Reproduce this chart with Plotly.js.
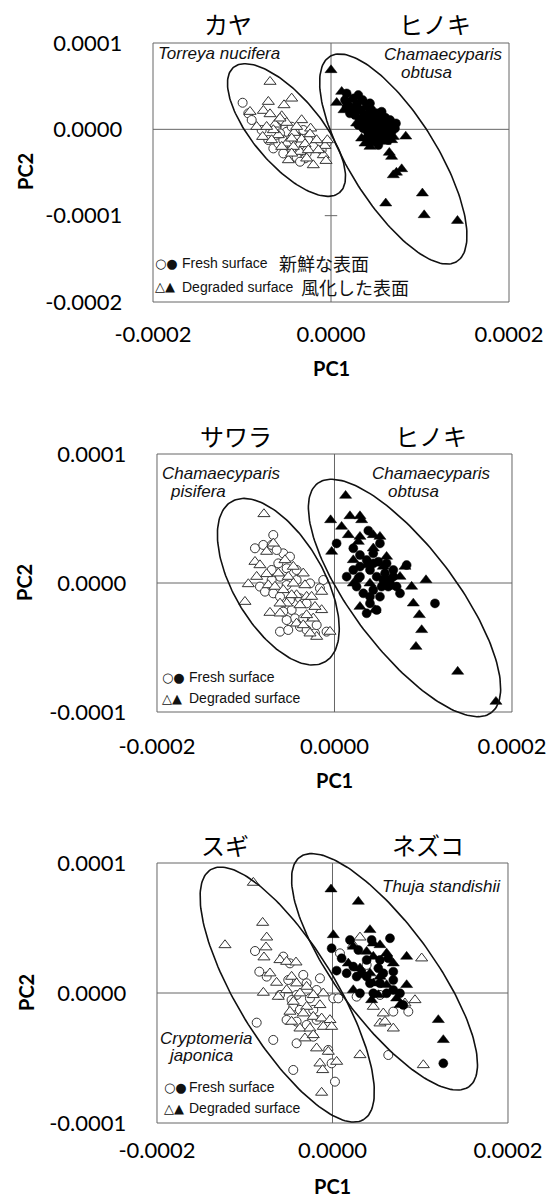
<!DOCTYPE html>
<html><head><meta charset="utf-8">
<script src="https://cdn.plot.ly/plotly-3.0.1.min.js"></script>
<style>html,body{margin:0;padding:0;background:#fff}</style>
</head><body><div id="chart" style="width:550px;height:1198px"></div>
<script>
// ---------------- DATA (PC1, PC2 scores) ----------------
// Panel 1: Torreya nucifera (open) vs Chamaecyparis obtusa (filled)
const p1_torreya_tri_x = [-6.85e-5,-7.04e-5,-4.42e-5,-5.28e-5,-7.60e-5,-9.10e-5,-6.85e-5,-5.54e-5,-3.30e-5,-8.35e-5,-6.29e-5,-4.98e-5,-2.29e-5,-7.68e-5,-5.92e-5,-4.16e-5,-2.36e-5,-3.30e-5,-4.98e-5,-2.92e-5,-0.68e-5,-0.41e-5,-4.79e-5,-1.99e-5,-0.86e-5,-0.56e-5,-3.48e-5,-6.48e-5,-4.23e-5,-2.55e-5,-5.73e-5,-7.23e-5,-4.42e-5,-3.86e-5,-5.54e-5,-1.61e-5,-6.67e-5,-2.73e-5,-4.42e-5,-1.42e-5];
const p1_torreya_tri_y = [5.52e-5,3.20e-5,3.58e-5,2.81e-5,2.16e-5,2.04e-5,1.77e-5,1.54e-5,1.08e-5,0.30e-5,0.57e-5,0.77e-5,0.11e-5,-0.86e-5,-0.66e-5,-0.39e-5,-0.55e-5,-1.16e-5,-1.63e-5,-1.70e-5,-1.90e-5,-1.24e-5,-3.56e-5,-4.14e-5,-2.98e-5,-3.64e-5,-2.59e-5,-0.08e-5,-2.01e-5,-2.40e-5,1.27e-5,0.30e-5,-1.05e-5,0.30e-5,-2.01e-5,-1.24e-5,-1.24e-5,-3.36e-5,-2.79e-5,-2.40e-5];
const p1_torreya_circ_x = [-9.93e-5,-9.29e-5,-8.91e-5,-6.48e-5,-5.92e-5,-3.48e-5,-2.92e-5,-3.86e-5,-0.49e-5,-5.36e-5,-4.42e-5,-7.04e-5,-2.55e-5,-4.98e-5,-3.86e-5,-6.11e-5,-1.99e-5,-3.11e-5,-4.42e-5,-5.36e-5,-1.05e-5,-7.79e-5,-2.73e-5,-5.73e-5,-3.48e-5];
const p1_torreya_circ_y = [3.08e-5,1.85e-5,1.08e-5,-2.21e-5,-1.63e-5,-1.82e-5,-3.36e-5,-3.25e-5,-1.55e-5,-1.24e-5,-2.21e-5,-1.24e-5,-1.24e-5,-0.28e-5,-0.86e-5,0.30e-5,-2.01e-5,-0.08e-5,0.30e-5,-2.79e-5,-2.40e-5,-0.08e-5,-2.79e-5,-0.47e-5,-3.75e-5];
const p1_hinoki_circ_x = [2.51e-5,3.07e-5,3.56e-5,2.88e-5,2.32e-5,3.33e-5,4.01e-5,4.57e-5,5.13e-5,3.71e-5,4.31e-5,4.76e-5,5.50e-5,6.07e-5,6.63e-5,3.26e-5,2.70e-5,3.93e-5,4.57e-5,5.13e-5,5.80e-5,6.33e-5,6.93e-5,4.76e-5,5.32e-5,4.19e-5,3.63e-5,5.69e-5,4.94e-5,4.38e-5,6.25e-5,6.81e-5,1.76e-5,2.13e-5,3.07e-5,7.19e-5,6.44e-5,5.32e-5,4.01e-5,4.76e-5,5.69e-5,4.38e-5,1.57e-5,1.76e-5,7.30e-5];
const p1_hinoki_circ_y = [3.58e-5,3.97e-5,3.39e-5,2.81e-5,2.43e-5,2.23e-5,2.70e-5,2.23e-5,1.85e-5,1.65e-5,1.38e-5,1.08e-5,1.15e-5,1.38e-5,1.08e-5,1.15e-5,1.65e-5,0.69e-5,0.30e-5,0.50e-5,0.30e-5,-0.08e-5,0.50e-5,-0.28e-5,-0.47e-5,-0.47e-5,0.11e-5,-0.86e-5,-1.24e-5,-1.63e-5,-0.66e-5,-0.28e-5,2.62e-5,1.85e-5,0.50e-5,0.11e-5,-1.24e-5,-1.82e-5,-1.05e-5,1.65e-5,2.04e-5,3.01e-5,3.39e-5,4.16e-5,0.69e-5];
const p1_hinoki_tri_x = [0.00e-5,1.20e-5,0.64e-5,1.95e-5,3.26e-5,4.19e-5,4.94e-5,5.88e-5,2.88e-5,4.38e-5,5.50e-5,6.07e-5,4.76e-5,3.82e-5,7.00e-5,1.46e-5,2.70e-5,6.44e-5,4.01e-5,5.32e-5,3.44e-5,4.38e-5,6.81e-5,6.55e-5,6.81e-5,7.94e-5,7.00e-5,7.35e-5,6.15e-5,10.27e-5,10.47e-5,14.21e-5,8.40e-5];
const p1_hinoki_tri_y = [6.87e-5,4.36e-5,3.08e-5,3.01e-5,3.20e-5,2.04e-5,1.27e-5,0.77e-5,0.69e-5,-0.08e-5,-0.08e-5,-1.43e-5,-0.86e-5,-1.63e-5,-0.86e-5,2.23e-5,2.23e-5,0.50e-5,1.08e-5,-1.24e-5,-1.05e-5,-2.01e-5,-1.24e-5,-2.70e-5,-3.17e-5,-4.60e-5,-5.30e-5,-5.00e-5,-8.57e-5,-7.41e-5,-9.93e-5,-10.59e-5,-0.82e-5];

// Panel 2: Chamaecyparis pisifera (open) vs Chamaecyparis obtusa (filled)
const p2_sawara_tri_x = [-7.95e-5,-6.90e-5,-8.96e-5,-8.40e-5,-7.65e-5,-8.77e-5,-9.71e-5,-10.09e-5,-7.27e-5,-6.14e-5,-6.33e-5,-5.58e-5,-4.64e-5,-5.21e-5,-4.64e-5,-3.52e-5,-3.33e-5,-4.27e-5,-3.14e-5,-2.58e-5,-1.45e-5,-1.45e-5,-2.39e-5,-3.14e-5,-4.27e-5,-3.52e-5,-2.01e-5,-0.51e-5,-2.76e-5,-5.39e-5,-6.14e-5,-7.46e-5,-6.71e-5,-5.77e-5,-4.83e-5,-3.89e-5,-2.20e-5,-7.65e-5];
const p2_sawara_tri_y = [5.35e-5,3.07e-5,1.65e-5,1.39e-5,0.70e-5,0.49e-5,-0.08e-5,-1.45e-5,-2.30e-5,-2.35e-5,0.75e-5,1.78e-5,1.27e-5,0.49e-5,-0.03e-5,0.75e-5,-0.16e-5,-0.93e-5,-1.06e-5,-1.06e-5,-0.67e-5,-2.09e-5,-2.74e-5,-2.48e-5,-3.13e-5,-3.26e-5,-4.16e-5,-3.77e-5,-3.90e-5,-1.58e-5,-1.58e-5,-0.16e-5,-0.28e-5,-0.54e-5,-0.93e-5,-1.71e-5,-1.84e-5,2.43e-5];
const p2_sawara_circ_x = [-6.90e-5,-8.96e-5,-8.02e-5,-7.08e-5,-5.77e-5,-5.02e-5,-6.33e-5,-4.27e-5,-5.39e-5,-7.08e-5,-6.14e-5,-5.39e-5,-4.27e-5,-2.76e-5,-1.26e-5,-1.64e-5,-8.40e-5,-7.83e-5,-6.90e-5,-6.14e-5,-5.02e-5,-3.89e-5,-3.14e-5,-4.83e-5,-5.77e-5,-4.45e-5,-3.52e-5,-5.39e-5,-6.14e-5,-5.21e-5,-3.89e-5,-3.14e-5,-2.20e-5,-0.89e-5,-2.01e-5,-7.08e-5,-6.52e-5];
const p2_sawara_circ_y = [3.72e-5,2.69e-5,2.95e-5,2.95e-5,2.30e-5,2.04e-5,1.52e-5,1.01e-5,1.14e-5,1.01e-5,0.49e-5,-0.16e-5,0.23e-5,-0.03e-5,0.23e-5,-0.41e-5,-0.28e-5,-0.67e-5,-0.80e-5,-1.06e-5,-1.32e-5,-1.19e-5,-1.58e-5,-2.09e-5,-2.22e-5,-2.74e-5,-2.74e-5,-2.87e-5,-3.77e-5,-3.64e-5,-3.39e-5,-3.64e-5,-3.90e-5,-3.77e-5,-3.26e-5,0.23e-5,2.56e-5];
const p2_hinoki_tri_x = [1.25e-5,-0.44e-5,1.74e-5,2.87e-5,3.06e-5,0.80e-5,1.56e-5,2.87e-5,4.37e-5,5.12e-5,2.68e-5,-0.32e-5,2.12e-5,8.69e-5,10.31e-5,8.88e-5,9.56e-5,9.82e-5,9.18e-5,13.88e-5,18.19e-5,2.87e-5,7.94e-5,4.37e-5,5.87e-5,3.62e-5,2.12e-5,4.00e-5,5.50e-5,6.63e-5,7.38e-5,4.56e-5];
const p2_hinoki_tri_y = [6.77e-5,4.88e-5,5.19e-5,5.19e-5,4.88e-5,4.37e-5,3.72e-5,3.59e-5,3.72e-5,3.59e-5,3.20e-5,2.43e-5,1.78e-5,-0.28e-5,0.23e-5,-1.58e-5,-2.48e-5,-3.64e-5,-4.94e-5,-6.87e-5,-9.20e-5,-1.84e-5,1.27e-5,2.69e-5,2.04e-5,1.39e-5,-0.03e-5,-0.03e-5,1.27e-5,-0.28e-5,0.49e-5,-2.09e-5];
const p2_hinoki_circ_x = [0.24e-5,3.81e-5,5.12e-5,2.12e-5,2.87e-5,4.37e-5,3.62e-5,4.94e-5,5.87e-5,6.63e-5,6.25e-5,7.00e-5,8.13e-5,11.32e-5,2.87e-5,4.00e-5,2.68e-5,3.25e-5,4.37e-5,5.12e-5,4.00e-5,4.75e-5,3.62e-5,2.49e-5,5.50e-5,7.38e-5,2.12e-5,4.75e-5,6.06e-5,1.37e-5,4.00e-5,5.31e-5,2.87e-5,4.37e-5,6.63e-5,5.69e-5];
const p2_hinoki_circ_y = [3.07e-5,4.06e-5,3.07e-5,2.69e-5,2.17e-5,2.30e-5,1.78e-5,1.65e-5,1.52e-5,1.01e-5,0.23e-5,-0.28e-5,1.39e-5,-1.58e-5,1.27e-5,1.01e-5,0.36e-5,-0.80e-5,-0.54e-5,-1.06e-5,-1.58e-5,-2.09e-5,-2.35e-5,-0.28e-5,0.23e-5,-0.80e-5,1.01e-5,0.49e-5,-0.28e-5,0.49e-5,-1.06e-5,-0.28e-5,0.49e-5,1.52e-5,0.49e-5,0.75e-5];

// Panel 3: Cryptomeria japonica (open) vs Thuja standishii (filled)
const p3_sugi_tri_x = [-9.02e-5,-7.96e-5,-7.50e-5,-7.58e-5,-12.25e-5,-7.81e-5,-5.99e-5,-5.23e-5,-4.16e-5,-7.13e-5,-6.37e-5,-7.88e-5,-6.18e-5,-4.66e-5,-4.09e-5,-2.95e-5,-5.23e-5,-3.71e-5,-2.19e-5,-1.05e-5,-4.47e-5,-2.95e-5,-1.43e-5,-4.85e-5,-3.33e-5,-2.19e-5,-1.24e-5,-0.29e-5,-4.66e-5,-3.71e-5,-2.57e-5,-1.05e-5,-0.10e-5,-3.14e-5,-2.19e-5,-1.81e-5,-0.48e-5,-1.43e-5,-1.12e-5,-1.24e-5,0.47e-5,2.37e-5,3.13e-5,10.16e-5,9.40e-5,8.26e-5,4.65e-5,5.79e-5,5.41e-5,6.93e-5,3.13e-5,10.35e-5,5.98e-5];
const p3_sugi_tri_y = [8.49e-5,5.41e-5,4.28e-5,3.52e-5,3.69e-5,2.75e-5,2.54e-5,2.41e-5,2.36e-5,1.52e-5,0.80e-5,0.03e-5,-0.28e-5,1.26e-5,0.75e-5,0.49e-5,0.23e-5,-0.02e-5,-0.15e-5,-0.02e-5,-0.66e-5,-1.05e-5,-0.92e-5,-1.43e-5,-1.56e-5,-1.82e-5,-1.95e-5,-2.07e-5,-2.20e-5,-2.72e-5,-2.72e-5,-2.59e-5,-2.59e-5,-3.48e-5,-3.23e-5,-4.25e-5,-4.51e-5,-5.41e-5,-5.92e-5,-7.66e-5,-5.28e-5,3.69e-5,4.28e-5,2.67e-5,-0.54e-5,-0.79e-5,-1.05e-5,-1.56e-5,-2.33e-5,-2.72e-5,-4.77e-5,-5.54e-5,-2.20e-5];
const p3_sugi_circ_x = [-8.83e-5,-8.34e-5,-7.50e-5,-5.61e-5,-4.85e-5,-3.33e-5,-1.43e-5,-5.04e-5,-5.99e-5,-4.09e-5,-2.57e-5,-1.81e-5,0.09e-5,0.66e-5,-4.47e-5,-3.71e-5,-2.19e-5,-5.23e-5,-4.09e-5,-2.95e-5,-4.09e-5,-2.19e-5,-0.48e-5,0.28e-5,-4.47e-5,-6.75e-5,-8.64e-5,0.85e-5,3.89e-5,5.41e-5,6.93e-5,8.64e-5,6.36e-5,2.75e-5,-2.95e-5,-4.66e-5,-1.81e-5,-0.10e-5];
const p3_sugi_circ_y = [3.23e-5,1.64e-5,1.26e-5,2.80e-5,2.28e-5,1.39e-5,1.13e-5,1.00e-5,-0.15e-5,-0.15e-5,-0.41e-5,0.23e-5,-0.41e-5,-0.41e-5,-1.05e-5,-1.30e-5,-1.30e-5,-2.07e-5,-2.20e-5,-2.46e-5,-3.87e-5,-3.36e-5,-4.38e-5,-6.82e-5,-5.92e-5,-3.61e-5,-2.28e-5,3.05e-5,2.16e-5,-0.15e-5,-1.43e-5,-1.43e-5,-4.77e-5,-0.28e-5,0.75e-5,-0.54e-5,-2.07e-5,-5.41e-5];
const p3_nezuko_tri_x = [-0.17e-5,2.94e-5,0.09e-5,4.27e-5,2.37e-5,4.65e-5,5.41e-5,3.89e-5,1.80e-5,3.13e-5,4.65e-5,6.17e-5,6.93e-5,8.45e-5,4.27e-5,5.41e-5,4.65e-5,6.17e-5,8.45e-5,7.31e-5,4.46e-5,12.06e-5,12.63e-5,2.37e-5,5.22e-5,7.69e-5];
const p3_nezuko_tri_y = [7.98e-5,7.03e-5,4.46e-5,4.85e-5,3.57e-5,3.82e-5,3.69e-5,3.18e-5,2.28e-5,1.90e-5,2.80e-5,3.05e-5,2.28e-5,2.80e-5,1.52e-5,1.26e-5,0.75e-5,0.62e-5,0.62e-5,-0.41e-5,-0.54e-5,-2.07e-5,-3.61e-5,0.23e-5,-0.15e-5,-0.92e-5];
const p3_nezuko_circ_x = [1.99e-5,2.94e-5,4.46e-5,6.55e-5,-0.10e-5,0.47e-5,1.04e-5,2.37e-5,3.89e-5,5.41e-5,6.36e-5,5.22e-5,3.32e-5,4.27e-5,5.41e-5,6.93e-5,6.93e-5,6.17e-5,8.07e-5,3.13e-5,4.65e-5,12.63e-5,5.79e-5,3.89e-5,2.75e-5,1.61e-5,6.93e-5,7.69e-5];
const p3_nezuko_circ_y = [4.08e-5,3.31e-5,4.08e-5,4.21e-5,3.44e-5,1.72e-5,2.67e-5,2.03e-5,2.54e-5,2.54e-5,2.67e-5,1.90e-5,1.52e-5,0.75e-5,0.75e-5,1.64e-5,0.23e-5,-0.02e-5,-0.92e-5,-0.02e-5,-0.02e-5,-5.41e-5,1.52e-5,1.26e-5,1.26e-5,1.52e-5,1.00e-5,-0.02e-5];

// Confidence ellipses: centre and two conjugate semi-axis vectors (data units)
const ell_p1_torreya = {cx:-5.00e-5, cy:-0.08e-5, ax:5.96e-5, ay:-7.25e-5, bx:2.91e-5, by:2.55e-5};
const ell_p1_hinoki  = {cx: 7.00e-5, cy:-3.44e-5, ax:7.14e-5, ay:-11.87e-5, bx:4.19e-5, by:2.68e-5};
const ell_p2_sawara  = {cx:-6.33e-5, cy: 0.10e-5, ax:5.28e-5, ay:-6.21e-5, bx:4.39e-5, by:1.77e-5};
const ell_p2_hinoki  = {cx: 7.89e-5, cy:-1.16e-5, ax:9.80e-5, ay:-8.88e-5, bx:4.62e-5, by:2.42e-5};
const ell_p3_sugi    = {cx:-5.16e-5, cy:-0.12e-5, ax:8.72e-5, ay:-9.61e-5, bx:4.75e-5, by:1.96e-5};
const ell_p3_nezuko  = {cx: 5.93e-5, cy: 1.63e-5, ax:9.64e-5, ay:-8.83e-5, bx:4.40e-5, by:2.19e-5};

// Tick values and labels
const xTickVals = [-0.0002, 0, 0.0002];
const xTickText = ['-0.0002', '0.0000', '0.0002'];
const y1TickVals = [-0.0002, -0.0001, 0, 0.0001];
const y1TickText = ['-0.0002', '-0.0001', '0.0000', '0.0001'];
const y23TickVals = [-0.0001, 0, 0.0001];
const y23TickText = ['-0.0001', '0.0000', '0.0001'];

// Labels
const speciesJa = [['カヤ','ヒノキ'], ['サワラ','ヒノキ'], ['スギ','ネズコ']];
const legendFresh = 'Fresh surface', legendDegraded = 'Degraded surface';
const legendFreshJa = '新鮮な表面', legendDegradedJa = '風化した表面';

// ---------------- LAYOUT ----------------
const W = 550, H = 1198;
const panels = [
  {frame:[153,509,43,302],  xr:[-0.0002,0.0002], yr:[-0.0002,0.0001], xpad:3e-6, padTop:3e-6,  padBot:3e-6, yt:[y1TickVals,y1TickText],  xstand:14},
  {frame:[157,512,454,712], xr:[-0.0002,0.0002], yr:[-0.0001,0.0001], xpad:3e-6, padTop:2e-6,  padBot:6e-6, yt:[y23TickVals,y23TickText], xstand:11},
  {frame:[157,508,863,1123],xr:[-0.0002,0.0002], yr:[-0.0001,0.0001], xpad:3e-6, padTop:16e-6, padBot:2e-6, yt:[y23TickVals,y23TickText], xstand:9}
];
const tickFont = {family:'Lato, "Open Sans", sans-serif', size:22, color:'#000'};
const layout = {width:W, height:H, margin:{l:0,r:0,t:0,b:0}, paper_bgcolor:'#fff', plot_bgcolor:'rgba(0,0,0,0)',
  showlegend:false, shapes:[], annotations:[]};

panels.forEach((p,i)=>{
  const [L,R,T,B] = p.frame;
  const ppx = (R-L)/(p.xr[1]-p.xr[0]);
  const ppy = (B-T)/(p.yr[1]-p.yr[0]);
  const s = i===0 ? '' : String(i+1);
  layout['xaxis'+s] = {domain:[(L-p.xpad*ppx)/W,(R+p.xpad*ppx)/W], range:[p.xr[0]-p.xpad,p.xr[1]+p.xpad],
    anchor:'y'+s, showgrid:false, zeroline:false, showline:false, ticks:'', tickvals:xTickVals, ticktext:xTickText,
    tickfont:tickFont, ticklabelstandoff:p.xstand, fixedrange:true};
  layout['yaxis'+s] = {domain:[1-(B+p.padBot*ppy)/H, 1-(T-p.padTop*ppy)/H], range:[p.yr[0]-p.padBot,p.yr[1]+p.padTop],
    anchor:'x'+s, showgrid:false, zeroline:false, showline:false, ticks:'', tickvals:p.yt[0], ticktext:p.yt[1],
    tickfont:tickFont, ticklabelstandoff:27, fixedrange:true};
  const xr='x'+s, yr='y'+s;
  layout.shapes.push({type:'line',xref:xr,yref:yr,x0:0,x1:0,y0:p.yr[0],y1:p.yr[1],line:{color:'#666',width:1},layer:'below'});
  layout.shapes.push({type:'line',xref:xr,yref:yr,x0:p.xr[0],x1:p.xr[1],y0:0,y1:0,line:{color:'#666',width:1},layer:'below'});
  layout.shapes.push({type:'rect',xref:xr,yref:yr,x0:p.xr[0],x1:p.xr[1],y0:p.yr[0],y1:p.yr[1],line:{color:'#666',width:1},layer:'below'});
});
// small cross tick on the central axis in panel 1
layout.shapes.push({type:'line',xref:'x',yref:'y',x0:-7e-6,x1:7e-6,y0:-0.0001,y1:-0.0001,line:{color:'#666',width:1},layer:'below'});

const px = v => v/W, py = v => 1 - v/H;
function ann(text,x,y,font,xa,ya,extra){
  layout.annotations.push(Object.assign({text:text,x:px(x),y:py(y),xref:'paper',yref:'paper',showarrow:false,
    xanchor:xa||'center',yanchor:ya||'middle',font:font,borderpad:0},extra||{}));
}
const jaTitle = {family:'"Noto Sans CJK JP", sans-serif', size:24, color:'#000'};
const spFont = {family:'"Liberation Sans", Arial, sans-serif', size:17, color:'#111'};
const lgFont = {family:'"Liberation Sans", Arial, sans-serif', size:14, color:'#111'};
const lgJa = {family:'"Noto Sans CJK JP", sans-serif', size:18, color:'#111'};
const symFont = {family:'"DejaVu Sans", sans-serif', size:13, color:'#111'};
const axFont = {family:'Lato, "Open Sans", sans-serif', size:20, color:'#000', weight:'bold'};

// Japanese species titles
ann(speciesJa[0][0],228,23,jaTitle); ann(speciesJa[0][1],435,23,jaTitle);
ann(speciesJa[1][0],236,435,jaTitle); ann(speciesJa[1][1],431,435,jaTitle);
ann(speciesJa[2][0],225,844,jaTitle); ann(speciesJa[2][1],428,844,jaTitle);
// Latin species names
ann('<i>Torreya nucifera</i>',157,53,spFont,'left');
ann('<i>Chamaecyparis</i>',383,54,spFont,'left'); ann('<i>obtusa</i>',400,73,spFont,'left');
ann('<i>Chamaecyparis</i>',161,473,spFont,'left'); ann('<i>pisifera</i>',169,491,spFont,'left');
ann('<i>Chamaecyparis</i>',371,473,spFont,'left'); ann('<i>obtusa</i>',387,491,spFont,'left');
ann('<i>Thuja standishii</i>',381,886,spFont,'left');
ann('<i>Cryptomeria</i>',159,1038,spFont,'left'); ann('<i>japonica</i>',167,1055,spFont,'left');
// in-plot legends
ann('○●',154,263,symFont,'left'); ann(legendFresh,181,263,lgFont,'left'); ann(legendFreshJa,278,263,lgJa,'left');
ann('△▲',154,287,symFont,'left'); ann(legendDegraded,181,287,lgFont,'left'); ann(legendDegradedJa,300,287,lgJa,'left');
ann('○●',161,677,symFont,'left'); ann(legendFresh,188,677,lgFont,'left');
ann('△▲',161,698,symFont,'left'); ann(legendDegraded,188,698,lgFont,'left');
ann('○●',163,1087,symFont,'left'); ann(legendFresh,188,1087,lgFont,'left');
ann('△▲',163,1108,symFont,'left'); ann(legendDegraded,188,1108,lgFont,'left');
// axis titles
ann('PC1',331,368,axFont); ann('PC1',334,780,axFont); ann('PC1',332,1186,axFont);
ann('PC2',25,172,axFont,'center','middle',{textangle:-90});
ann('PC2',24,583,axFont,'center','middle',{textangle:-90});
ann('PC2',26,993,axFont,'center','middle',{textangle:-90});

// ---------------- TRACES ----------------
const openStyle = sym => ({symbol:sym, size: sym==='circle'?9:10.5, color:'#fff', line:{color:'#333',width:1}});
const fillStyle = sym => ({symbol:sym, size: sym==='circle'?9:10.5, color:'#000', line:{color:'#000',width:0.5}});
function pts(x,y,ax,marker,name){ return {type:'scatter',mode:'markers',x:x,y:y,xaxis:'x'+ax,yaxis:'y'+ax,marker:marker,name:name,cliponaxis:false,hoverinfo:'skip'}; }
function ellipse(e,ax){
  const xs=[], ys=[];
  for(let k=0;k<=180;k++){ const t=2*Math.PI*k/180; xs.push(e.cx+e.ax*Math.cos(t)+e.bx*Math.sin(t)); ys.push(e.cy+e.ay*Math.cos(t)+e.by*Math.sin(t)); }
  return {type:'scatter',mode:'lines',x:xs,y:ys,xaxis:'x'+ax,yaxis:'y'+ax,line:{color:'#111',width:1.6},hoverinfo:'skip'};
}
const traces = [
  pts(p1_torreya_circ_x,p1_torreya_circ_y,'',openStyle('circle'),'Torreya fresh'),
  pts(p1_torreya_tri_x,p1_torreya_tri_y,'',openStyle('triangle-up'),'Torreya degraded'),
  pts(p1_hinoki_circ_x,p1_hinoki_circ_y,'',fillStyle('circle'),'Hinoki fresh'),
  pts(p1_hinoki_tri_x,p1_hinoki_tri_y,'',fillStyle('triangle-up'),'Hinoki degraded'),
  ellipse(ell_p1_torreya,''), ellipse(ell_p1_hinoki,''),
  pts(p2_sawara_circ_x,p2_sawara_circ_y,'2',openStyle('circle'),'Sawara fresh'),
  pts(p2_sawara_tri_x,p2_sawara_tri_y,'2',openStyle('triangle-up'),'Sawara degraded'),
  pts(p2_hinoki_circ_x,p2_hinoki_circ_y,'2',fillStyle('circle'),'Hinoki fresh'),
  pts(p2_hinoki_tri_x,p2_hinoki_tri_y,'2',fillStyle('triangle-up'),'Hinoki degraded'),
  ellipse(ell_p2_sawara,'2'), ellipse(ell_p2_hinoki,'2'),
  pts(p3_sugi_circ_x,p3_sugi_circ_y,'3',openStyle('circle'),'Sugi fresh'),
  pts(p3_sugi_tri_x,p3_sugi_tri_y,'3',openStyle('triangle-up'),'Sugi degraded'),
  pts(p3_nezuko_circ_x,p3_nezuko_circ_y,'3',fillStyle('circle'),'Nezuko fresh'),
  pts(p3_nezuko_tri_x,p3_nezuko_tri_y,'3',fillStyle('triangle-up'),'Nezuko degraded'),
  ellipse(ell_p3_sugi,'3'), ellipse(ell_p3_nezuko,'3')
];
Plotly.newPlot('chart', traces, layout, {staticPlot:true, displayModeBar:false});
</script></body></html>
